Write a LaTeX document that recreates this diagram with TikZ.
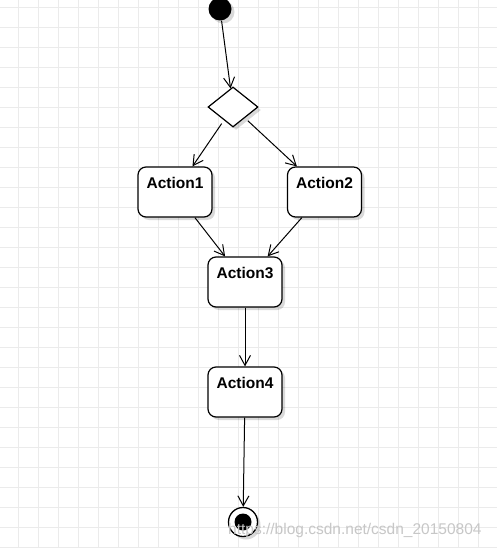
\documentclass[tikz,border=0pt]{standalone}
\usepackage{fontspec}
\setmainfont{Liberation Sans}
\usetikzlibrary{positioning,shapes.geometric,arrows.meta,shadows}

\tikzset{
  gridline/.style={draw=black!8, line width=0.8pt},
  shade/.style={drop shadow={shadow xshift=3pt, shadow yshift=-3pt, opacity=0.15, fill=black}},
  action/.style={draw, rounded corners=8pt, line width=1.2pt, fill=white, shade,
    minimum width=74pt, minimum height=50pt, inner sep=3pt,
    text height=18pt, text depth=26pt, font=\bfseries\fontsize{15.5}{18}\selectfont},
  flow/.style={-{Straight Barb[length=10pt,width=11pt]}, line width=1pt},
}

\begin{document}
\begin{tikzpicture}[x=1pt, y=-1pt]
      \useasboundingbox (0,0) rectangle (497,548);
      \fill[white] (0,0) rectangle (497,548);

      % background grid
      \foreach \gx in {18,38,...,498} \draw[gridline] (\gx,0) -- (\gx,548);
      \foreach \gy in {7,27,...,548} \draw[gridline] (0,\gy) -- (497,\gy);

      % Define the nodes of the activity
      \node[circle, fill=black, inner sep=0pt, minimum size=23pt, shade] (start) at (220, 9) {};
      \node[diamond, draw, line width=1.2pt, fill=white, inner sep=0pt,
            minimum width=50pt, minimum height=40pt, shade] (choice) at (233, 107) {};

      \node[action] (action1) at (175, 192) {Action1};
      \node[action] (action2) at (324.5, 192) {Action2};
      \node[action] (action3) at (245, 282) {Action3};
      \node[action] (action4) at (245, 392) {Action4};

      \node[circle, draw, line width=1.3pt, fill=white, inner sep=0pt, minimum size=29pt, shade] (finish) at (243, 522) {};
      \fill (finish.center) circle (8.5pt);

      \node[anchor=west, text=black!22, font=\fontsize{15.5}{18}\selectfont,
            inner sep=0pt] (watermark) at (228, 530) {https://blog.csdn.net/csdn\_20150804};

      \draw[flow] (start) -- (choice);
      \draw[flow, shorten <=4pt] (choice) -- (action1);
      \draw[flow, shorten <=4pt] (choice) -- (action2);

      \draw[flow] (action1) -- (action3);
      \draw[flow] (action2) -- (action3);
      \draw[flow] (action3) -- (action4);
      \draw[flow] (action4) -- (finish);

\end{tikzpicture}
\end{document}
